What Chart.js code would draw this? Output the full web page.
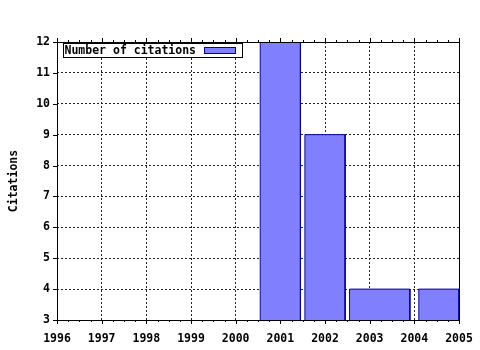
<!DOCTYPE html>
<html>
<head>
<meta charset="utf-8">
<script src="https://cdn.jsdelivr.net/npm/chart.js@4.4.0/dist/chart.umd.min.js"></script>
<style>
  html, body { margin: 0; padding: 0; background: #fff; }
  #wrap { width: 480px; height: 350px; }
</style>
</head>
<body>
<div id="wrap"><canvas id="chart" width="480" height="350"></canvas></div>
<script>
// citations per year, bars (left / right edge in years)
const barValues = [12, 9, 4, 4];
const barStarts = [2000.55, 2001.55, 2002.55, 2004.1];
const barEnds = [2001.45, 2002.45, 2003.9, 2005];
const xMin = 1996, xMax = 2005;
const yMin = 3, yMax = 12;
const seriesLabel = 'Number of citations';
const yTitle = 'Citations';

const FONT = 'DejaVu Sans Mono';
const barFill = '#8080ff';
const barEdge = '#0000a0';

// each bar as a closed outline, filled down to the axis
const datasets = barValues.map((v, i) => ({
    label: seriesLabel,
    data: [
        { x: barStarts[i], y: yMin },
        { x: barStarts[i], y: v },
        { x: barEnds[i], y: v },
        { x: barEnds[i], y: yMin }
    ],
    showLine: true,
    fill: 'start',
    backgroundColor: barFill,
    borderColor: barEdge,
    borderWidth: 1,
    pointRadius: 0,
    tension: 0
}));

// gnuplot-ish frame, tick marks and the boxed legend
const framePlugin = {
    id: 'frame',
    afterDraw(chart) {
        const ctx = chart.ctx;
        const a = chart.chartArea;
        const xs = chart.scales.x, ys = chart.scales.y;
        ctx.save();
        ctx.strokeStyle = '#000';
        ctx.lineWidth = 1;
        ctx.setLineDash([]);
        ctx.strokeRect(Math.round(a.left) + 0.5, Math.round(a.top) + 0.5,
            Math.round(a.right - a.left), Math.round(a.bottom - a.top));

        ctx.beginPath();
        for (let t = xMin; t <= xMax + 1e-6; t += 0.25) {
            const px = Math.round(xs.getPixelForValue(t)) + 0.5;
            const major = Math.abs(t - Math.round(t)) < 1e-6;
            const len = major ? 4 : 2;
            ctx.moveTo(px, a.bottom);
            ctx.lineTo(px, a.bottom + len);
            ctx.moveTo(px, a.top);
            ctx.lineTo(px, a.top - len);
        }
        for (let t = yMin; t <= yMax; t++) {
            const py = Math.round(ys.getPixelForValue(t)) + 0.5;
            ctx.moveTo(a.left, py);
            ctx.lineTo(a.left - 4, py);
        }
        ctx.stroke();

        // legend
        ctx.fillStyle = '#fff';
        ctx.fillRect(64, 45, 178, 12);
        ctx.strokeRect(63.5, 43.5, 179, 14);
        ctx.fillStyle = '#000';
        ctx.font = 'bold 11.5px "' + FONT + '"';
        ctx.textBaseline = 'middle';
        ctx.textAlign = 'left';
        ctx.fillText(seriesLabel, 64.5, 51);
        ctx.fillStyle = barFill;
        ctx.fillRect(204, 47, 31, 6);
        ctx.strokeStyle = barEdge;
        ctx.strokeRect(204.5, 47.5, 31, 6);
        ctx.restore();
    }
};

new Chart(document.getElementById('chart'), {
    type: 'scatter',
    data: { datasets: datasets },
    options: {
        responsive: false,
        animation: false,
        layout: { padding: { top: 42, right: 21, left: 0, bottom: 0 } },
        plugins: {
            legend: { display: false },
            tooltip: { enabled: false }
        },
        scales: {
            x: {
                type: 'linear',
                min: xMin,
                max: xMax,
                afterFit: s => {
                    s.height = 30;
                    s.paddingLeft = 0;
                    s.paddingRight = 0;
                },
                ticks: {
                    stepSize: 1,
                    padding: 12,
                    color: '#000',
                    font: { family: FONT, size: 11.5, weight: 'bold' },
                    callback: v => String(v)
                },
                grid: {
                    color: '#222',
                    lineWidth: 1,
                    drawTicks: false
                },
                border: { display: false, dash: [2, 2] }
            },
            y: {
                type: 'linear',
                min: yMin,
                max: yMax,
                afterFit: s => { s.width = 57; },
                ticks: {
                    stepSize: 1,
                    padding: 7,
                    color: '#000',
                    font: { family: FONT, size: 11.5, weight: 'bold' }
                },
                grid: {
                    color: '#222',
                    lineWidth: 1,
                    drawTicks: false
                },
                border: { display: false, dash: [2, 2] },
                title: {
                    display: true,
                    text: yTitle,
                    color: '#000',
                    padding: { top: 7, bottom: 0 },
                    font: { family: FONT, size: 11.5, weight: 'bold' }
                }
            }
        }
    },
    plugins: [framePlugin]
});
</script>
</body>
</html>
